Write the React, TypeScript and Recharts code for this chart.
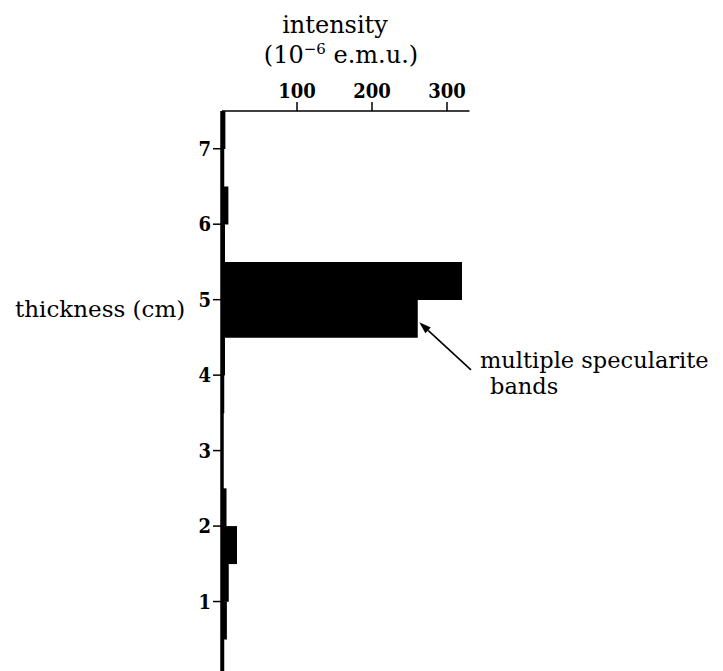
import React from 'react';
import { BarChart, Bar, XAxis, YAxis, ReferenceLine } from 'recharts';

// lower edge of each thickness bin (cm), bottom to top; each bin is 0.5 cm thick
const thicknessLow = [0, 0.5, 1.0, 1.5, 2.0, 2.5, 3.0, 3.5, 4.0, 4.5, 5.0, 5.5, 6.0, 6.5, 7.0];
// intensity (10^-6 e.m.u.) of each bin
const intensity = [3, 6.5, 9, 20, 6, 1, 1, 3, 4, 261, 320, 4, 8.5, 3, 4.5];

const xTicks = [100, 200, 300];
const yTicks = [1, 2, 3, 4, 5, 6, 7];
const xDomain: [number, number] = [0, 330];
const yDomain: [number, number] = [0, 7.5];

// annotation arrow (data coordinates): tail near the text, head at the band
const arrowTail = { x: 332, y: 4.07 };
const arrowHead = { x: 263, y: 4.7 };

const data = thicknessLow.map((low, i) => ({ bin: `bin${i}`, low, intensity: intensity[i] }));

const serif = 'DejaVu Serif';
const tickFont = { fill: '#000', fontSize: 20, fontWeight: 'bold' as const, fontFamily: 'DejaVu Serif Condensed' };

const ArrowShape = (props: any) => {
  const { x1, y1, x2, y2 } = props;
  if ([x1, y1, x2, y2].some((v) => typeof v !== 'number' || isNaN(v))) return <g />;
  const dx = x2 - x1;
  const dy = y2 - y1;
  const len = Math.sqrt(dx * dx + dy * dy) || 1;
  const ux = dx / len;
  const uy = dy / len;
  const hl = 12;
  const hw = 4;
  const bx = x2 - ux * hl;
  const by = y2 - uy * hl;
  const pts = `${x2},${y2} ${bx - uy * hw},${by + ux * hw} ${bx + uy * hw},${by - ux * hw}`;
  return (
    <g>
      <line x1={x1} y1={y1} x2={bx} y2={by} stroke="#000" strokeWidth={1.6} />
      <polygon points={pts} fill="#000" />
    </g>
  );
};

const textStyle: React.CSSProperties = {
  position: 'absolute',
  fontFamily: serif,
  fontSize: 23,
  color: '#000',
  whiteSpace: 'nowrap',
  lineHeight: 1,
};

export default function App() {
  return (
    <div style={{ position: 'relative', width: 715, height: 663, overflow: 'hidden', background: '#fff' }}>
      <BarChart
        width={715}
        height={680}
        data={data}
        layout="vertical"
        barCategoryGap={0}
        barGap={0}
        margin={{ top: 73, right: 253.5, bottom: 11, left: 154 }}
      >
        <XAxis
          type="number"
          orientation="top"
          domain={xDomain}
          ticks={xTicks}
          allowDataOverflow
          height={30}
          tickSize={9}
          tickMargin={4}
          tick={tickFont}
          axisLine={{ stroke: '#000', strokeWidth: 1.5 }}
          tickLine={{ stroke: '#000', strokeWidth: 1.5 }}
        />
        <YAxis yAxisId="cat" type="category" dataKey="bin" hide reversed width={0} />
        <YAxis
          yAxisId="num"
          type="number"
          dataKey="low"
          domain={yDomain}
          ticks={yTicks}
          allowDataOverflow
          reversed
          width={60}
          tickSize={9}
          tickMargin={2}
          tick={tickFont}
          axisLine={{ stroke: '#000', strokeWidth: 3.5 }}
          tickLine={{ stroke: '#000', strokeWidth: 1.5 }}
        />
        <Bar dataKey="intensity" yAxisId="cat" fill="#000" isAnimationActive={false} />
        <ReferenceLine
          yAxisId="num"
          segment={[arrowTail, arrowHead]}
          ifOverflow="visible"
          shape={ArrowShape}
        />
      </BarChart>
      <div style={{ ...textStyle, fontSize: 24, left: 327, top: 5, transform: 'translateX(-50%)' }}>intensity</div>
      <div style={{ ...textStyle, fontSize: 24, left: 333, top: 35, transform: 'translateX(-50%)' }}>
        (10<span style={{ fontSize: 15, position: 'relative', top: -9 }}>−6</span> e.m.u.)
      </div>
      <div style={{ ...textStyle, left: 7, top: 290 }}>thickness (cm)</div>
      <div style={{ ...textStyle, fontSize: 22.5, left: 472, top: 341 }}>multiple specularite</div>
      <div style={{ ...textStyle, fontSize: 22.5, left: 482, top: 367 }}>bands</div>
    </div>
  );
}
